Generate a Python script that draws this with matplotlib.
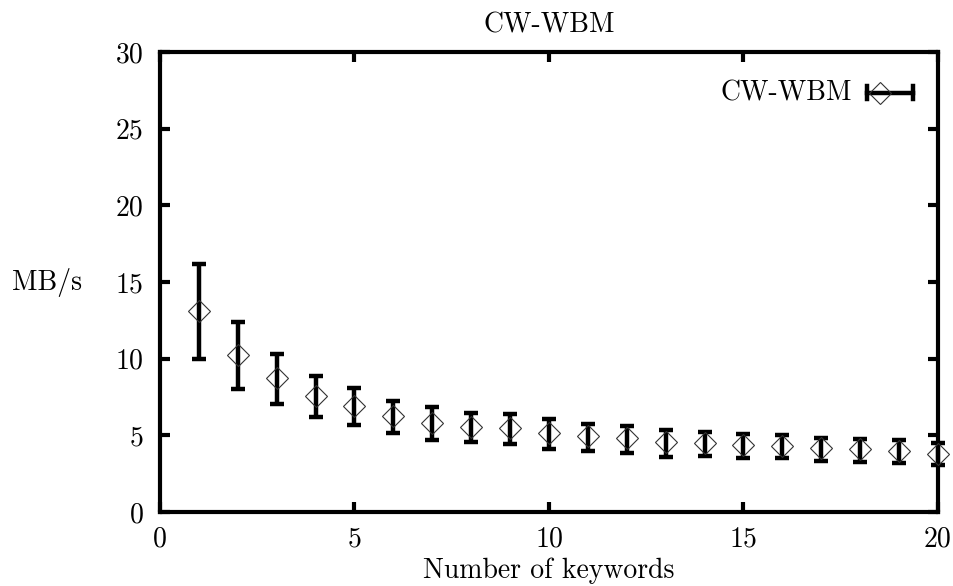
import matplotlib
matplotlib.use("Agg")
import matplotlib.pyplot as plt
from matplotlib.lines import Line2D

plt.rcParams["font.family"] = ["cmr10", "DejaVu Serif"]
plt.rcParams["axes.formatter.use_mathtext"] = True
plt.rcParams["axes.unicode_minus"] = False

# Throughput vs. number of keywords (mean with low/high range)
keywords = [1, 2, 3, 4, 5, 6, 7, 8, 9, 10, 11, 12, 13, 14, 15, 16, 17, 18, 19, 20]
mbps = [13.1, 10.24, 8.74, 7.59, 6.91, 6.28, 5.78, 5.57, 5.5, 5.13,
        4.96, 4.8, 4.59, 4.48, 4.37, 4.3, 4.15, 4.09, 3.98, 3.8]
mbps_low = [9.96, 8.0, 7.02, 6.18, 5.67, 5.17, 4.70, 4.59, 4.44, 4.11,
            3.98, 3.83, 3.57, 3.65, 3.5, 3.5, 3.33, 3.24, 3.18, 3.07]
mbps_high = [16.2, 12.37, 10.3, 8.87, 8.1, 7.26, 6.83, 6.44, 6.37, 6.05,
             5.72, 5.61, 5.35, 5.2, 5.07, 5.02, 4.8, 4.74, 4.7, 4.48]
series_name = "CW-WBM"
x_ticks = [0, 5, 10, 15, 20]
y_ticks = [0, 5, 10, 15, 20, 25, 30]

FS = 20
MS = 11.5

fig = plt.figure(figsize=(9.54, 5.86), dpi=100)
ax = fig.add_axes([0.1677, 0.1263, 0.8155, 0.7850])

err_lo = [m - lo for m, lo in zip(mbps, mbps_low)]
err_hi = [hi - m for m, hi in zip(mbps, mbps_high)]

ax.errorbar(keywords, mbps, yerr=[err_lo, err_hi], fmt="none",
            ecolor="black", elinewidth=3.2, capsize=5.0, capthick=3.2,
            zorder=3, clip_on=False)
ax.plot(keywords, mbps, linestyle="none", marker="D", markersize=MS,
        markerfacecolor="none", markeredgecolor="#333333",
        markeredgewidth=0.8, zorder=4, clip_on=False)

ax.set_xlim(0, 20)
ax.set_ylim(0, 30)
ax.set_xticks(x_ticks)
ax.set_yticks(y_ticks)
ax.set_xticklabels([str(t) for t in x_ticks])
ax.set_yticklabels([str(t) for t in y_ticks])

for s in ax.spines.values():
    s.set_linewidth(3.0)
ax.tick_params(which="both", direction="in", length=7, width=3.0,
               top=True, right=True, labelsize=FS, colors="black")
ax.tick_params(axis="x", pad=10)
ax.tick_params(axis="y", pad=12)

ax.set_title(series_name, fontsize=FS, pad=14)
ax.set_xlabel("Number of keywords", fontsize=FS, va="center")
ax.xaxis.set_label_coords(0.5, -0.128)
ax.set_ylabel("MB/s", fontsize=FS, rotation=0, ha="center", va="center")
ax.yaxis.set_label_coords(-0.145, 0.498)

# key in the upper right corner: label, horizontal bar with end caps, diamond
ky = 0.911
ax.text(0.889, ky, series_name, transform=ax.transAxes, ha="right",
        va="center", fontsize=FS)
ax.add_line(Line2D([0.909, 0.968], [ky, ky], transform=ax.transAxes,
                   color="black", linewidth=3.2))
for cx in (0.909, 0.968):
    ax.add_line(Line2D([cx, cx], [ky - 0.014, ky + 0.014],
                       transform=ax.transAxes, color="black", linewidth=3.2))
ax.add_line(Line2D([0.925], [ky], transform=ax.transAxes, marker="D",
                   markersize=MS, markerfacecolor="none",
                   markeredgecolor="#333333", markeredgewidth=0.8,
                   linestyle="none"))

fig.savefig("out.png", dpi=100)
